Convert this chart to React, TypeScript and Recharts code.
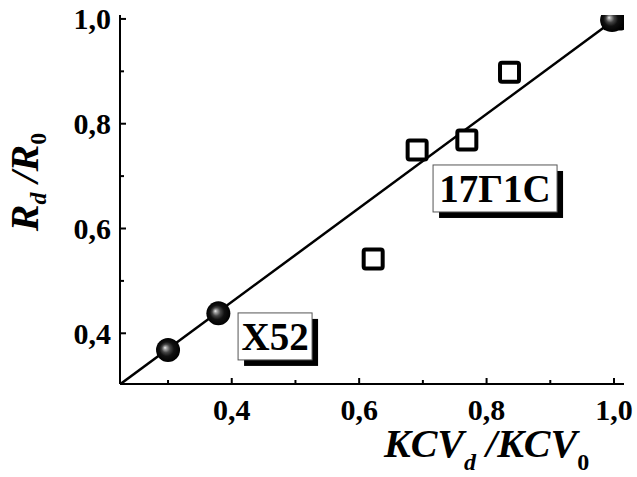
import { ScatterChart, Scatter, XAxis, YAxis, ReferenceDot, Label } from 'recharts';

const serif = '"Liberation Serif", "Times New Roman", serif';

// X52 steel (spheres)
const x52KCV = [0.3, 0.379, 0.997];
const x52R = [0.368, 0.438, 0.998];

// 17Г1С steel (open squares)
const g17KCV = [0.622, 0.691, 0.769, 0.836, 1.0];
const g17R = [0.542, 0.75, 0.769, 0.898, 1.0];

// linear fit, drawn corner to corner
const fitKCV = [0.2246, 1.0157];
const fitR = [0.3025, 1.012];

const xMajor = [0.4, 0.6, 0.8, 1.0];
const xMinor = [0.3, 0.5, 0.7, 0.9];
const yMajor = [0.4, 0.6, 0.8, 1.0];
const yMinor = [0.5, 0.7, 0.9];

const xDomain = [0.2246, 1.0157];
const yDomain = [0.3032, 1.0075];

// boxed material labels, anchored in data units
const tags = [
  { text: 'X52', x: 0.468, y: 0.394, w: 74 },
  { text: '17Г1С', x: 0.8133, y: 0.6764, w: 124 },
];

const x52 = x52KCV.map((x, i) => ({ x, y: x52R[i] }));
const g17 = g17KCV.map((x, i) => ({ x, y: g17R[i] }));
const fit = fitKCV.map((x, i) => ({ x, y: fitR[i] }));

const fmt = (v: number) => v.toFixed(1).replace('.', ',');
const isMajor = (list: number[], v: number) => list.some((m) => Math.abs(m - v) < 1e-6);

function XTick(props: any) {
  const { x, y, payload } = props;
  const major = isMajor(xMajor, payload.value);
  return (
    <g>
      <line x1={x} x2={x} y1={y} y2={y - (major ? 6 : 4)} stroke="#000" strokeWidth={2} />
      {major && (
        <text x={x} y={y + 36} textAnchor="middle" fontFamily={serif} fontWeight="bold" fontSize={30} fill="#000">
          {fmt(payload.value)}
        </text>
      )}
    </g>
  );
}

function YTick(props: any) {
  const { x, y, payload } = props;
  const major = isMajor(yMajor, payload.value);
  return (
    <g>
      <line x1={x} x2={x + (major ? 6 : 4)} y1={y} y2={y} stroke="#000" strokeWidth={2} />
      {major && (
        <text x={x - 9} y={y} dy="0.35em" textAnchor="end" fontFamily={serif} fontWeight="bold" fontSize={30} fill="#000">
          {fmt(payload.value)}
        </text>
      )}
    </g>
  );
}

const XTitle = () => (
  <text x={384} y={457} fontFamily={serif} fontWeight="bold" fontStyle="italic" fontSize={40} fill="#000">
    KCV
    <tspan dy={13} fontSize={24}>d</tspan>
    <tspan dy={-13}> /KCV</tspan>
    <tspan dy={13} fontSize={24} fontStyle="normal">0</tspan>
  </text>
);

const YTitle = () => (
  <text
    x={38}
    y={182}
    transform="rotate(-90, 38, 182)"
    textAnchor="middle"
    fontFamily={serif}
    fontWeight="bold"
    fontStyle="italic"
    fontSize={40}
    fill="#000"
  >
    R
    <tspan dy={8} fontSize={24}>d</tspan>
    <tspan dy={-8}> /R</tspan>
    <tspan dy={8} fontSize={24} fontStyle="normal">0</tspan>
  </text>
);

const Sphere = (p: any) => <circle cx={p.cx} cy={p.cy} r={12} fill="url(#sphere)" />;
const Square = (p: any) => (
  <rect x={p.cx - 9.5} y={p.cy - 9.5} width={19} height={19} rx={2} fill="#fff" stroke="#000" strokeWidth={4} />
);

const tagShape = (text: string, w: number) => (p: any) => {
  const h = 47;
  return (
    <g>
      <rect x={p.cx - w / 2 + 6} y={p.cy - h / 2 + 6} width={w} height={h} fill="#000" />
      <rect x={p.cx - w / 2} y={p.cy - h / 2} width={w} height={h} fill="#fff" stroke="#555" strokeWidth={1} />
      <text x={p.cx} y={p.cy + 14} textAnchor="middle" fontFamily={serif} fontWeight="bold" fontSize={39} fill="#000">
        {text}
      </text>
    </g>
  );
};

export default function App() {
  return (
    <div style={{ position: 'absolute', left: 0, top: 0, width: 637, height: 477, background: '#fff' }}>
      <svg width={0} height={0} style={{ position: 'absolute' }}>
        <defs>
          <radialGradient id="sphere" cx="0.5" cy="0.5" r="0.5" fx="0.37" fy="0.4">
            <stop offset="0" stopColor="#eeeeee" />
            <stop offset="0.12" stopColor="#a8a8a8" />
            <stop offset="0.35" stopColor="#444" />
            <stop offset="0.6" stopColor="#111" />
            <stop offset="1" stopColor="#000" />
          </radialGradient>
        </defs>
      </svg>
      <ScatterChart width={637} height={477} margin={{ top: 15, right: 13, bottom: 0, left: 0 }}>
        <XAxis
          type="number"
          dataKey="x"
          domain={xDomain}
          allowDataOverflow
          ticks={[...xMinor, ...xMajor].sort((a, b) => a - b)}
          interval={0}
          height={93}
          tickLine={false}
          tickSize={0}
          tickMargin={0}
          tick={XTick}
          axisLine={{ stroke: '#000', strokeWidth: 2 }}
        >
          <Label content={XTitle} />
        </XAxis>
        <XAxis
          xAxisId="top"
          orientation="top"
          type="number"
          dataKey="x"
          domain={xDomain}
          allowDataOverflow
          height={0}
          tick={false}
          tickLine={false}
          axisLine={{ stroke: '#000', strokeWidth: 2 }}
        />
        <YAxis
          type="number"
          dataKey="y"
          domain={yDomain}
          allowDataOverflow
          ticks={[...yMajor, ...yMinor].sort((a, b) => a - b)}
          interval={0}
          width={120}
          tickLine={false}
          tickSize={0}
          tickMargin={0}
          tick={YTick}
          axisLine={{ stroke: '#000', strokeWidth: 2 }}
        >
          <Label content={YTitle} />
        </YAxis>
        <YAxis
          yAxisId="right"
          orientation="right"
          type="number"
          dataKey="y"
          domain={yDomain}
          allowDataOverflow
          width={0}
          tick={false}
          tickLine={false}
          axisLine={{ stroke: '#000', strokeWidth: 2 }}
        />
        <Scatter data={fit} line={{ stroke: '#000', strokeWidth: 2.5 }} shape={() => <g />} isAnimationActive={false} />
        <Scatter data={g17} shape={Square} isAnimationActive={false} />
        <Scatter data={x52} shape={Sphere} isAnimationActive={false} />
        {tags.map((t) => (
          <ReferenceDot key={t.text} x={t.x} y={t.y} shape={tagShape(t.text, t.w)} />
        ))}
      </ScatterChart>
    </div>
  );
}
